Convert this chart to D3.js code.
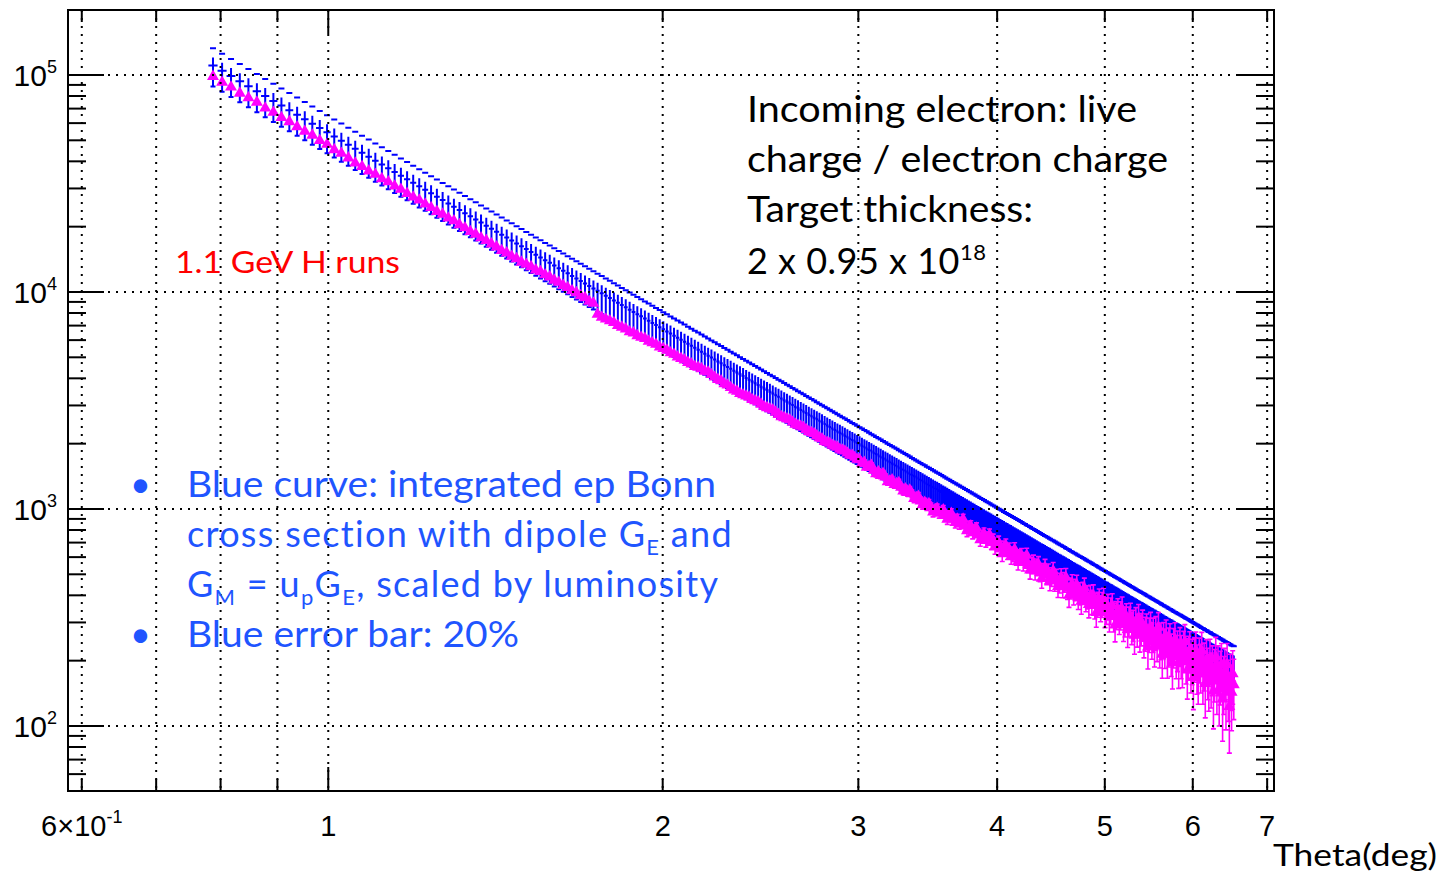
<!DOCTYPE html>
<html>
<head>
<meta charset="utf-8">
<script src="https://cdn.jsdelivr.net/npm/d3@7"></script>
<style>
  body { margin: 0; background: #fff; }
</style>
</head>
<body>
<div id="chart"></div>
<script>
// histogram binning in theta (deg)
const binLow = 0.78;
const binWidth = 0.015;

// blue: integrated ep Bonn cross section x luminosity, per bin
const blueCounts = [
  110600,104500,98840,93590,88710,84160,79920,75960,72250,68780,
  65540,62490,59630,56940,54410,52030,49780,47660,45660,43770,
  41990,40300,38690,37180,35740,34370,33080,31840,30670,29560,
  28490,27480,26520,25600,24720,23880,23080,22320,21590,20890,
  20220,19570,18960,18370,17810,17260,16740,16240,15760,15300,
  14860,14430,14020,13630,13250,12880,12530,12190,11860,11540,
  11240,10940,10660,10380,10120,9863,9615,9376,9144,8921,
  8704,8494,8291,8094,7904,7720,7541,7367,7199,7036,
  6878,6725,6576,6431,6291,6155,6022,5894,5769,5647,
  5529,5415,5303,5194,5089,4986,4886,4788,4694,4601,
  4511,4424,4338,4255,4174,4095,4018,3943,3870,3798,
  3729,3661,3594,3530,3466,3405,3344,3286,3228,3172,
  3117,3064,3011,2960,2910,2861,2813,2766,2721,2676,
  2632,2589,2548,2507,2467,2427,2389,2351,2314,2278,
  2243,2208,2175,2141,2109,2077,2046,2015,1985,1956,
  1927,1899,1871,1844,1817,1791,1765,1740,1715,1691,
  1667,1644,1621,1599,1577,1555,1534,1513,1492,1472,
  1453,1433,1414,1395,1377,1359,1341,1324,1306,1290,
  1273,1257,1241,1225,1210,1194,1179,1165,1150,1136,
  1122,1108,1095,1081,1068,1055,1043,1030,1018,1006,
  994,982,971,959,948,937,926,916,905,895,
  885,875,865,855,845,836,827,817,808,799,
  791,782,774,765,757,749,741,733,725,717,
  710,702,695,688,680,673,666,659,653,646,
  639,633,626,620,614,608,602,596,590,584,
  578,572,567,561,556,550,545,540,534,529,
  524,519,514,509,505,500,495,491,486,481,
  477,473,468,464,460,456,451,447,443,439,
  435,431,427,424,420,416,413,409,405,402,
  398,395,391,388,385,381,378,375,372,368,
  365,362,359,356,353,350,347,344,342,339,
  336,333,330,328,325,322,320,317,315,312,
  310,307,305,302,300,297,295,293,290,288,
  286,284,281,279,277,275,273,271,269,267,
  265,263,261,259,257,255,253,251,249,247,
  245,244,242,240,238,236,235,233,231,230,
  228,226,225,223,221,220,218,217,215,214,
  212,211,209,208,206,205,203,202,201,199,
  198,196,195,194
];

// magenta: 1.1 GeV H runs, measured counts per bin
const magentaCounts = [
  98410,92470,87970,82360,78510,74900,70330,67220,63580,60870,
  57670,54990,52770,49820,47880,45260,43560,41470,39270,37860,
  36110,34860,33280,32160,30740,29730,28450,27380,26530,25420,
  24500,23500,22810,21890,21260,20420,19740,18970,18460,17750,
  17280,16640,16120,15520,15130,14590,14230,13720,13400,13080,
  12630,12410,11990,11720,11330,11080,10710,10480,10140,9926,
  9608,9411,9060,8878,7893,7644,7500,7360,7224,7003,
  6876,6753,6550,6475,6284,6176,6108,5930,5831,5734,
  5571,5481,5392,5241,5159,5016,4938,4863,4731,4659,
  4534,4494,4428,4311,4275,4163,4055,3950,3896,3773,
  3722,3628,3535,3489,3402,3358,3315,3273,3193,3152,
  3114,3039,2965,2930,2894,2860,2792,2727,2663,2633,
  2603,2574,2514,2457,2430,2403,2377,2323,2272,2248,
  2224,2175,2128,2106,2048,2027,2007,1963,1944,1925,
  1884,1866,1849,1809,1772,1765,1729,1693,1687,1623,
  1638,1557,1572,1586,1508,1451,1483,1427,1458,1404,
  1334,1348,1362,1295,1309,1322,1258,1210,1238,1192,
  1221,1175,1117,1130,1143,1087,1046,1072,1032,1058,
  1018,968,993,1005,956,967,990,932,897,932,
  954,897,865,897,854,865,897,834,794,825,
  835,776,796,815,758,721,750,769,715,734,
  761,700,718,667,684,702,662,621,663,679,
  633,649,604,620,651,599,571,601,609,566,
  582,611,556,523,551,565,519,540,555,510,
  479,513,538,496,510,468,488,519,466,479,
  439,458,482,438,461,484,431,400,433,450,
  409,426,447,392,409,375,411,432,384,394,
  363,397,374,399,359,333,365,380,350,364,
  383,332,342,356,319,341,359,319,292,326,
  338,312,325,345,293,305,318,278,305,320,
  285,293,262,303,279,315,267,282,294,254,
  269,280,231,266,286,251,266,235,271,246,
  285,233,250,214,252,232,260,214,235,248,
  217,196,233,251,213,226,197,236,213,198,
  225,245,204,181,211,224,190,203,167,207,
  223,188,174,206,190,222,174,193,157,202,
  180,165,203,169,186,145,177,208,161,186,
  148,173,192,133,161,180,144,192,153,123,
  166,143,174,155
];

const blueErrFrac = 0.2;      // "Blue error bar: 20%"
const magentaErr = 48;        // roughly constant absolute error

// axes
const xDomain = [0.5831, 7.1];
const yDomain = [50.16, 199290];
const xTicks = [0.6, 0.7, 0.8, 0.9, 1, 2, 3, 4, 5, 6, 7];
const xLabelTicks = [0.6, 1, 2, 3, 4, 5, 6, 7];
const yDecades = [2, 3, 4, 5];
const yMinorTicks = [60, 70, 80, 90,
  200, 300, 400, 500, 600, 700, 800, 900,
  2000, 3000, 4000, 5000, 6000, 7000, 8000, 9000,
  20000, 30000, 40000, 50000, 60000, 70000, 80000, 90000];

const infoLines = ["Incoming electron: live", "charge / electron charge", "Target thickness:"];

const W = 1444, H = 876;
const frame = { left: 68, top: 10, right: 1274, bottom: 791 };

const svg = d3.select("#chart").append("svg")
  .attr("width", W).attr("height", H)
  .style("font-family", "'Liberation Sans', Arial, sans-serif");

const x = d3.scaleLog().domain(xDomain).range([frame.left, frame.right]);
const y = d3.scaleLog().domain(yDomain).range([frame.bottom, frame.top]);

const theta = i => binLow + binWidth * (i + 0.5);

const plot = svg.append("g");

// blue histogram: cross + error bar + upper 20% dash
const blue = plot.append("g").attr("stroke", "#0000ff").attr("stroke-width", 2).attr("fill", "none");
const bp = d3.path();
blueCounts.forEach((v, i) => {
  const cx = x(theta(i));
  const x0 = x(theta(i) - binWidth / 2), x1 = x(theta(i) + binWidth / 2);
  const yc = y(v);
  const ylo = y(v * (1 - blueErrFrac));
  const yhi = y(v * (1 + blueErrFrac));
  bp.moveTo(x0, yc); bp.lineTo(x1, yc);
  bp.moveTo(cx, yc - 8); bp.lineTo(cx, ylo);
  bp.moveTo(cx - 2.5, ylo); bp.lineTo(cx + 2.5, ylo);
  bp.moveTo(cx - 3, yhi); bp.lineTo(cx + 3, yhi);
});
blue.append("path").attr("d", bp.toString());

// magenta data: error bars + triangles
const mag = plot.append("g");
const mp = d3.path();
magentaCounts.forEach((v, i) => {
  const cx = x(theta(i));
  const yt = y(v + magentaErr), yb = y(v - magentaErr);
  mp.moveTo(cx, yt); mp.lineTo(cx, yb);
  mp.moveTo(cx - 2.5, yt); mp.lineTo(cx + 2.5, yt);
  mp.moveTo(cx - 2.5, yb); mp.lineTo(cx + 2.5, yb);
});
mag.append("path").attr("d", mp.toString())
  .attr("stroke", "#ff00ff").attr("stroke-width", 1.6).attr("fill", "none");

const tri = d3.symbol().type(d3.symbolTriangle).size(62);
mag.selectAll("path.tri")
  .data(magentaCounts)
  .join("path")
  .attr("class", "tri")
  .attr("d", tri)
  .attr("fill", "#ff00ff")
  .attr("transform", (d, i) => `translate(${x(theta(i))},${y(d)})`);

// grid (dotted, on top of the data like ROOT)
const grid = svg.append("g")
  .attr("stroke", "#000").attr("stroke-width", 2).attr("stroke-dasharray", "2,6");
grid.selectAll("line.gx").data(xTicks).join("line")
  .attr("x1", d => x(d)).attr("x2", d => x(d))
  .attr("y1", frame.top).attr("y2", frame.bottom);
grid.selectAll("line.gy").data(yDecades).join("line")
  .attr("x1", frame.left).attr("x2", frame.right)
  .attr("y1", d => y(Math.pow(10, d))).attr("y2", d => y(Math.pow(10, d)));

// ticks
const ticks = svg.append("g").attr("stroke", "#000").attr("stroke-width", 2);
yDecades.forEach(d => {
  const yy = y(Math.pow(10, d));
  ticks.append("line").attr("x1", frame.left).attr("x2", frame.left + 36).attr("y1", yy).attr("y2", yy);
  ticks.append("line").attr("x1", frame.right).attr("x2", frame.right - 36).attr("y1", yy).attr("y2", yy);
});
yMinorTicks.forEach(v => {
  const yy = y(v);
  ticks.append("line").attr("x1", frame.left).attr("x2", frame.left + 18).attr("y1", yy).attr("y2", yy);
  ticks.append("line").attr("x1", frame.right).attr("x2", frame.right - 18).attr("y1", yy).attr("y2", yy);
});
xTicks.forEach(t => {
  const xx = x(t);
  const len = t === 1 ? 24 : 12;
  ticks.append("line").attr("x1", xx).attr("x2", xx).attr("y1", frame.bottom).attr("y2", frame.bottom - len);
  ticks.append("line").attr("x1", xx).attr("x2", xx).attr("y1", frame.top).attr("y2", frame.top + len);
});

// frame
svg.append("rect")
  .attr("x", frame.left).attr("y", frame.top)
  .attr("width", frame.right - frame.left).attr("height", frame.bottom - frame.top)
  .attr("fill", "none").attr("stroke", "#000").attr("stroke-width", 2);

// y tick labels 10^n
yDecades.forEach(d => {
  const t = svg.append("text")
    .attr("x", 57).attr("y", y(Math.pow(10, d)) + 11)
    .attr("text-anchor", "end").attr("font-size", 30);
  t.append("tspan").text("10");
  t.append("tspan").attr("font-size", 18).attr("dy", -13).text(d);
});

// x tick labels
xLabelTicks.forEach(v => {
  const t = svg.append("text")
    .attr("x", x(v)).attr("y", 836)
    .attr("text-anchor", "middle").attr("font-size", 29);
  if (v === 0.6) {
    t.append("tspan").text("6×10");
    t.append("tspan").attr("font-size", 18).attr("dy", -13).text("-1");
  } else {
    t.text(v);
  }
});

// overlay texts
const calib = "Lato, 'Open Sans', sans-serif";

svg.append("text")
  .attr("x", 1273).attr("y", 866)
  .attr("font-family", calib).attr("font-size", 31)
  .attr("textLength", 164).attr("lengthAdjust", "spacingAndGlyphs")
  .text("Theta(deg)");

svg.append("text")
  .attr("x", 175).attr("y", 273)
  .attr("font-family", calib).attr("font-size", 31).attr("fill", "#ff0000")
  .attr("textLength", 225).attr("lengthAdjust", "spacingAndGlyphs")
  .text("1.1 GeV H runs");

const infoWidths = [390, 421, 286];
infoLines.forEach((s, i) => {
  svg.append("text")
    .attr("x", 747).attr("y", 122 + i * 50)
    .attr("font-family", calib).attr("font-size", 36)
    .attr("textLength", infoWidths[i]).attr("lengthAdjust", "spacingAndGlyphs")
    .text(s);
});
const thick = svg.append("text")
  .attr("x", 747).attr("y", 274)
  .attr("font-family", calib).attr("font-size", 36).attr("letter-spacing", 0.5);
thick.append("tspan").text("2 x 0.95 x 10");
thick.append("tspan").attr("font-size", 22).attr("dy", -14).text("18");

// blue notes
const noteBlue = "#1f55ff";
const notes = svg.append("g").attr("font-family", calib).attr("font-size", 36).attr("fill", noteBlue);
[497, 647].forEach(yy => {
  notes.append("text").attr("x", 130).attr("y", yy).text("•");
});
notes.append("text").attr("x", 187).attr("y", 497)
  .attr("textLength", 529).attr("lengthAdjust", "spacingAndGlyphs")
  .text("Blue curve: integrated ep Bonn");
const l2 = notes.append("text").attr("x", 187).attr("y", 547).attr("letter-spacing", 1.3);
l2.append("tspan").text("cross section with dipole G");
l2.append("tspan").attr("font-size", 22).attr("dy", 8).text("E");
l2.append("tspan").attr("dy", -8).text(" and");
const l3 = notes.append("text").attr("x", 187).attr("y", 597).attr("letter-spacing", 1.3);
l3.append("tspan").text("G");
l3.append("tspan").attr("font-size", 22).attr("dy", 8).text("M");
l3.append("tspan").attr("dy", -8).text(" = u");
l3.append("tspan").attr("font-size", 22).attr("dy", 8).text("p");
l3.append("tspan").attr("dy", -8).text("G");
l3.append("tspan").attr("font-size", 22).attr("dy", 8).text("E");
l3.append("tspan").attr("dy", -8).text(",  scaled by luminosity");
notes.append("text").attr("x", 187).attr("y", 647)
  .attr("textLength", 332).attr("lengthAdjust", "spacingAndGlyphs")
  .text("Blue error bar: 20%");
</script>
</body>
</html>
